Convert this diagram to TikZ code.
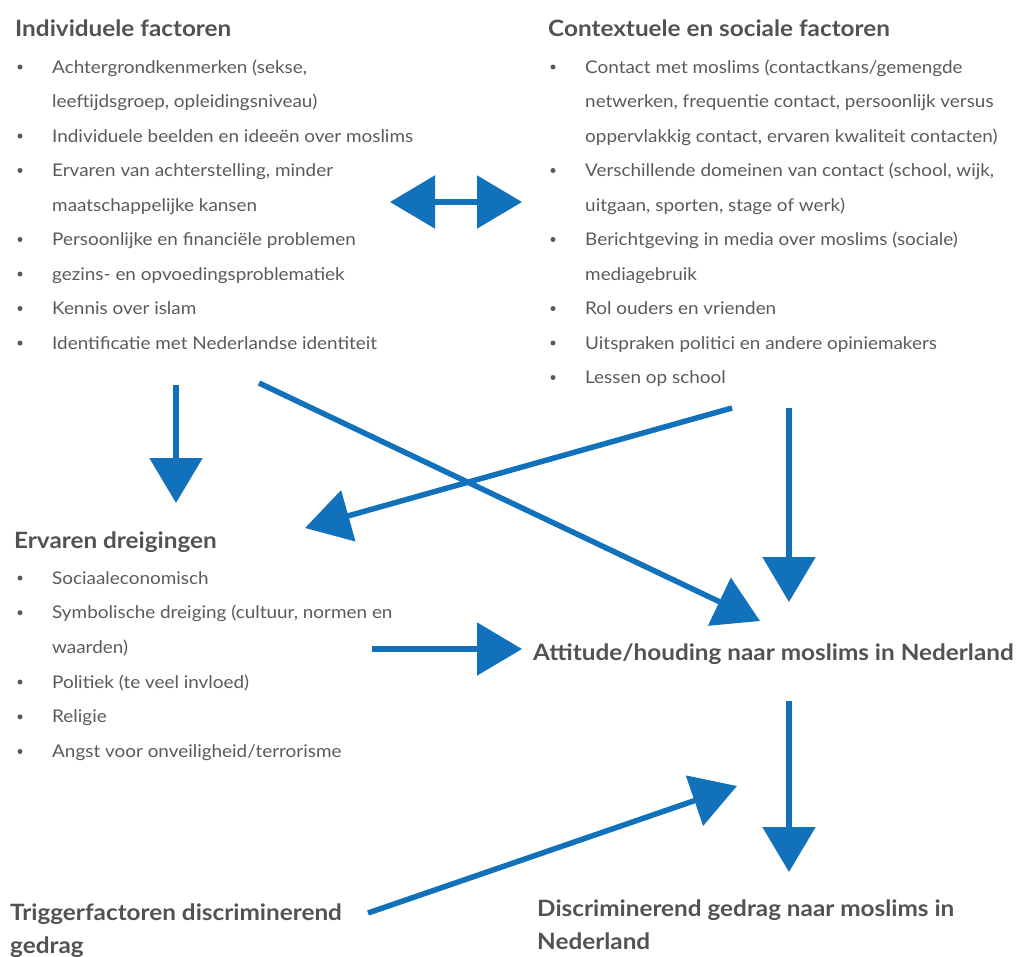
\documentclass[tikz,border=0pt]{standalone}
\usepackage{fontspec}
\setmainfont{Lato}[FakeStretch=1.08]
\usepackage{tikz}
\usetikzlibrary{arrows.meta}
\definecolor{arrowblue}{RGB}{17,114,187}
\definecolor{txtgray}{RGB}{90,90,90}
\definecolor{headgray}{RGB}{82,82,82}

\begin{document}
\begin{tikzpicture}[x=1pt,y=-1pt,
    head/.style={anchor=base west,inner sep=0pt,text=headgray,
      font=\fontsize{22.5}{26}\selectfont\bfseries},
    txt/.style={anchor=base west,inner sep=0pt,text=txtgray,
      font=\fontsize{17.5}{20}\selectfont},
    dot/.style={circle,fill=txtgray,inner sep=0pt,minimum size=5pt},
    flow/.style={draw=arrowblue,line width=5.5pt,
      -{Triangle[length=45pt,width=52pt]}},
    twoway/.style={draw=arrowblue,line width=5.5pt,
      {Triangle[length=45pt,width=52pt]}-{Triangle[length=45pt,width=52pt]}}]
    \useasboundingbox (0,0) rectangle (1017,956);

    % individuele factoren
    \node[head] (indh) at (15,36) {Individuele factoren};
    \node[dot] (ib1) at (20,67) {};
    \node[txt] (ind1) at (52,73) {Achtergrondkenmerken (sekse,};
    \node[txt] (ind2) at (52,107.5) {leeftijdsgroep, opleidingsniveau)};
    \node[dot] (ib2) at (20,136) {};
    \node[txt] (ind3) at (52,142) {Individuele beelden en ideeën over moslims};
    \node[dot] (ib3) at (20,170.5) {};
    \node[txt] (ind4) at (52,176.5) {Ervaren van achterstelling, minder};
    \node[txt] (ind5) at (52,211) {maatschappelijke kansen};
    \node[dot] (ib4) at (20,239.5) {};
    \node[txt] (ind6) at (52,245.5) {Persoonlijke en financiële problemen};
    \node[dot] (ib5) at (20,274) {};
    \node[txt] (ind7) at (52,280) {gezins- en opvoedingsproblematiek};
    \node[dot] (ib6) at (20,308.5) {};
    \node[txt] (ind8) at (52,314.5) {Kennis over islam};
    \node[dot] (ib7) at (20,343) {};
    \node[txt] (ind9) at (52,349) {Identificatie met Nederlandse identiteit};

    % contextuele en sociale factoren
    \node[head] (ctxh) at (548,36) {Contextuele en sociale factoren};
    \node[dot] (cb1) at (553,67) {};
    \node[txt] (ctx1) at (585,73) {Contact met moslims (contactkans/gemengde};
    \node[txt] (ctx2) at (585,107.5) {netwerken, frequentie contact, persoonlijk versus};
    \node[txt] (ctx3) at (585,142) {oppervlakkig contact, ervaren kwaliteit contacten)};
    \node[dot] (cb2) at (553,170.5) {};
    \node[txt] (ctx4) at (585,176.5) {Verschillende domeinen van contact (school, wijk,};
    \node[txt] (ctx5) at (585,211) {uitgaan, sporten, stage of werk)};
    \node[dot] (cb3) at (553,239.5) {};
    \node[txt] (ctx6) at (585,245.5) {Berichtgeving in media over moslims (sociale)};
    \node[txt] (ctx7) at (585,280) {mediagebruik};
    \node[dot] (cb4) at (553,308.5) {};
    \node[txt] (ctx8) at (585,314.5) {Rol ouders en vrienden};
    \node[dot] (cb5) at (553,343) {};
    \node[txt] (ctx9) at (585,349) {Uitspraken politici en andere opiniemakers};
    \node[dot] (cb6) at (553,377.5) {};
    \node[txt] (ctx10) at (585,383.5) {Lessen op school};

    % ervaren dreigingen
    \node[head] (thrh) at (14,548) {Ervaren dreigingen};
    \node[dot] (tb1) at (20,578) {};
    \node[txt] (thr1) at (52,584) {Sociaaleconomisch};
    \node[dot] (tb2) at (20,612.7) {};
    \node[txt] (thr2) at (52,618.7) {Symbolische dreiging (cultuur, normen en};
    \node[txt] (thr3) at (52,653.4) {waarden)};
    \node[dot] (tb3) at (20,682) {};
    \node[txt] (thr4) at (52,688) {Politiek (te veel invloed)};
    \node[dot] (tb4) at (20,716.8) {};
    \node[txt] (thr5) at (52,722.8) {Religie};
    \node[dot] (tb5) at (20,751.5) {};
    \node[txt] (thr6) at (52,757.5) {Angst voor onveiligheid/terrorisme};

    % uitkomsten
    \node[head] (att) at (533,660) {Attitude/houding naar moslims in Nederland};
    \node[head] (trig1) at (10,920) {Triggerfactoren discriminerend};
    \node[head] (trig2) at (10,953) {gedrag};
    \node[head] (dis1) at (537,916) {Discriminerend gedrag naar moslims in};
    \node[head] (dis2) at (537,949) {Nederland};

    % pijlen
    \coordinate (dblL) at (390,202);
    \coordinate (dblR) at (522,202);
    \coordinate (indS) at (176,385);
    \coordinate (indT) at (176,503);
    \coordinate (indX) at (259,383);
    \coordinate (attX) at (760,621);
    \coordinate (ctxX) at (732,408);
    \coordinate (thrX) at (305,528);
    \coordinate (ctxS) at (789,408);
    \coordinate (ctxT) at (789,602);
    \coordinate (thrS) at (372,649);
    \coordinate (thrT) at (522,649);
    \coordinate (attS) at (789,701);
    \coordinate (attT) at (789,872);
    \coordinate (trigS) at (368,913);
    \coordinate (trigT) at (737,786);

    \draw[twoway] (dblL) -- (dblR);
    \draw[flow] (indS) -- (indT);
    \draw[flow] (indX) -- (attX);
    \draw[flow] (ctxX) -- (thrX);
    \draw[flow] (ctxS) -- (ctxT);
    \draw[flow] (thrS) -- (thrT);
    \draw[flow] (attS) -- (attT);
    \draw[flow] (trigS) -- (trigT);
\end{tikzpicture}
\end{document}
